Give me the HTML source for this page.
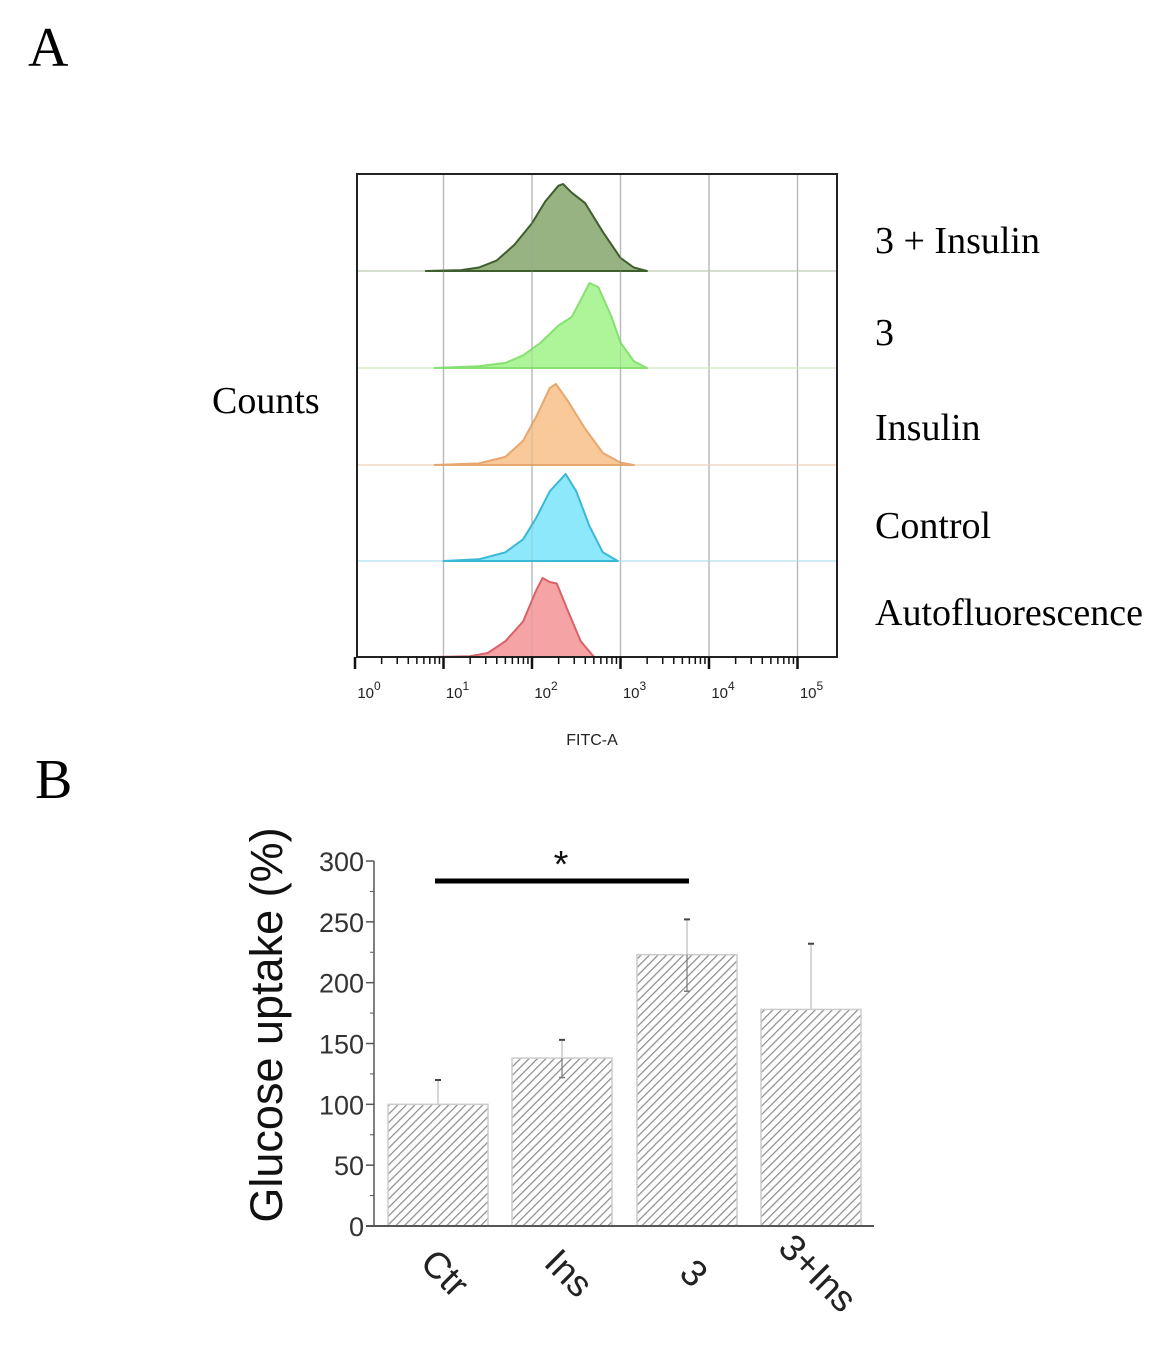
<!DOCTYPE html>
<html><head><meta charset="utf-8">
<style>
body{margin:0;background:#fff;}
svg{display:block;}
.serif{font-family:"Liberation Serif",serif;}
.sans{font-family:"Liberation Sans",sans-serif;}
</style></head>
<body>
<svg id="fig" width="1158" height="1352" viewBox="0 0 1158 1352" xmlns="http://www.w3.org/2000/svg">
<defs>
<pattern id="hatch" patternUnits="userSpaceOnUse" width="6" height="6" patternTransform="rotate(45)">
<rect width="6" height="6" fill="#fff"/>
<line x1="0" y1="0" x2="0" y2="6" stroke="#8a8a8a" stroke-width="2.4"/>
</pattern>
</defs>
<text class="serif" x="28" y="66" font-size="56">A</text>
<text class="serif" x="35" y="798" font-size="56">B</text>
<g id="hist"></g>
<g id="bars"></g>
</svg>
<script>
// ---------- Panel A data ----------
const rowLabels = ["3 + Insulin", "3", "Insulin", "Control", "Autofluorescence"];
const rowFill = ["#98b382", "#aef59a", "#f9c99a", "#8ee8fb", "#f5a3a5"];
const rowStroke = ["#3f5e2e", "#86e072", "#e6a870", "#3ab8d6", "#d9626a"];
const rowBaseColor = ["#c9d4c0", "#d7ecc9", "#f0d9c4", "#bfe6f0", "#e6c9ca"];
const histLog0 = [0.8,1.2,1.4,1.6,1.8,2.0,2.15,2.3,2.35,2.45,2.6,2.8,3.0,3.15,3.3];
const histVal0 = [0,0.01,0.04,0.12,0.3,0.55,0.8,0.98,1,0.9,0.78,0.45,0.15,0.04,0];
const histLog1 = [0.9,1.4,1.7,1.9,2.1,2.3,2.45,2.55,2.65,2.75,2.9,3.0,3.15,3.3];
const histVal1 = [0,0.02,0.06,0.15,0.3,0.5,0.6,0.8,1,0.95,0.6,0.3,0.08,0];
const histLog2 = [0.9,1.4,1.7,1.9,2.05,2.2,2.27,2.4,2.6,2.8,3.0,3.15];
const histVal2 = [0,0.02,0.1,0.3,0.6,0.95,1,0.8,0.45,0.15,0.03,0];
const histLog3 = [1.0,1.4,1.7,1.9,2.05,2.2,2.38,2.5,2.65,2.8,2.97];
const histVal3 = [0,0.02,0.1,0.25,0.5,0.8,1,0.8,0.4,0.1,0];
const histLog4 = [0.9,1.3,1.5,1.7,1.9,2.05,2.12,2.2,2.28,2.4,2.55,2.7];
const histVal4 = [0,0.01,0.05,0.2,0.45,0.85,1,0.95,0.93,0.6,0.2,0];
const peakHeights = [87, 85, 81, 87, 79];
const decadeLabels = ["0","1","2","3","4","5"];

// ---------- Panel B data ----------
const categories = ["Ctr", "Ins", "3", "3+Ins"];
const means = [100, 138, 223, 178];
const errUp = [120, 153, 252, 232];
const errLow = [100, 122, 193, 178];
const yTicks = [0, 50, 100, 150, 200, 250, 300];

const NS = "http://www.w3.org/2000/svg";
function mk(parent, tag, attrs){const e=document.createElementNS(NS,tag);for(const k in attrs)e.setAttribute(k,attrs[k]);parent.appendChild(e);return e;}

// ---------- Panel A ----------
const H = document.getElementById('hist');
const fx0 = 357, fx1 = 837, fy0 = 174, fy1 = 657;
const lx = v => 355 + v * 88.5;
const baselines = [271, 368, 465, 561, 657];
for (let d = 1; d <= 5; d++) {
  const g = mk(H, 'line', {x1: lx(d), x2: lx(d), y1: fy0, y2: fy1, stroke: '#c8c8c8', 'stroke-width': 1.5});
  
  
}
const logs = [histLog0, histLog1, histLog2, histLog3, histLog4];
const vals = [histVal0, histVal1, histVal2, histVal3, histVal4];
for (let r = 0; r < 5; r++) {
  const b = baselines[r];
  if (r < 4) {
    const bl = mk(H, 'line', {x1: fx0, x2: fx1, y1: b, y2: b, stroke: rowBaseColor[r], 'stroke-width': 1.5});
    
    
  }
  let d = '';
  logs[r].forEach((L, i) => {
    const x = lx(L), y = b - vals[r][i] * peakHeights[r];
    d += (i ? 'L' : 'M') + x.toFixed(1) + ',' + y.toFixed(1);
  });
  const p = mk(H, 'path', {d: d + 'Z', fill: rowFill[r], stroke: rowStroke[r], 'stroke-width': 2, 'stroke-linejoin': 'round'});
  
  
  const t = mk(H, 'text', {x: 875, y: [253, 345, 440, 538, 625][r], 'font-size': 38, class: 'serif'});
  t.textContent = rowLabels[r];
  
  
}
for (let d = 1; d <= 5; d++) {
  const g = mk(H, 'line', {x1: lx(d), x2: lx(d), y1: fy0, y2: fy1, stroke: '#9a9a9a', 'stroke-width': 1, opacity: 0.35});
  
  
}
const fr = mk(H, 'rect', {x: fx0, y: fy0, width: fx1 - fx0, height: fy1 - fy0, fill: 'none', stroke: '#222', 'stroke-width': 2});


for (let d = 0; d <= 5; d++) {
  const mj = mk(H, 'line', {x1: lx(d), x2: lx(d), y1: fy1, y2: fy1 + 12, stroke: '#111', 'stroke-width': 2.5});
  
  
  if (d < 5) for (let m = 2; m <= 9; m++) {
    const x = lx(d + Math.log10(m));
    const mn = mk(H, 'line', {x1: x, x2: x, y1: fy1, y2: fy1 + 7, stroke: '#111', 'stroke-width': 1.5});
    
    
  }
  const t = mk(H, 'text', {x: lx(d) + 14, y: 698, 'font-size': 15, 'text-anchor': 'middle', class: 'sans', fill: '#222'});
  t.innerHTML = '10<tspan dy="-8" font-size="12">' + decadeLabels[d] + '</tspan>';
  
  
}
const xt = mk(H, 'text', {x: 592, y: 745, 'font-size': 16, 'text-anchor': 'middle', class: 'sans', fill: '#222'});
xt.textContent = 'FITC-A';


const yt = mk(H, 'text', {x: 212, y: 413, 'font-size': 38, class: 'serif'});
yt.textContent = 'Counts';



// ---------- Panel B ----------
const B = document.getElementById('bars');
const y0 = 1226, yTop = 861;
const ys = v => y0 - v * (y0 - yTop) / 300;
const barLeft = [388, 512, 637, 761], barW = 100;
for (let i = 0; i < categories.length; i++) {
  const x = barLeft[i], cx = x + barW / 2;
  const el = mk(B, 'line', {x1: cx, x2: cx, y1: ys(errUp[i]), y2: ys(errLow[i]), stroke: '#bbb', 'stroke-width': 1.2});
  
  
  const r = mk(B, 'rect', {x: x, y: ys(means[i]), width: barW, height: y0 - ys(means[i]), fill: 'url(#hatch)', stroke: '#ccc', 'stroke-width': 1.5});
  
  
  const cap = mk(B, 'line', {x1: cx - 3, x2: cx + 3, y1: ys(errUp[i]), y2: ys(errUp[i]), stroke: '#444', 'stroke-width': 2});
  
  
  if (errLow[i] < means[i]) {
    const el2 = mk(B, 'line', {x1: cx, x2: cx, y1: ys(means[i]), y2: ys(errLow[i]), stroke: '#777', 'stroke-width': 1.2});
    
    
    const cap2 = mk(B, 'line', {x1: cx - 3, x2: cx + 3, y1: ys(errLow[i]), y2: ys(errLow[i]), stroke: '#777', 'stroke-width': 1.5});
    
    
  }
  const t = mk(B, 'text', {x: 0, y: 0, 'font-size': 37, class: 'sans', 'text-anchor': 'middle', fill: '#222',
    transform: 'translate(' + (cx - 2) + ',' + 1282 + ') rotate(45)'});
  t.textContent = categories[i];
  
  
}
const ax = mk(B, 'line', {x1: 374, x2: 374, y1: yTop, y2: y0, stroke: '#555', 'stroke-width': 1.5});


const bx = mk(B, 'line', {x1: 366, x2: 874, y1: y0, y2: y0, stroke: '#555', 'stroke-width': 2});


yTicks.forEach(v => {
  const tk = mk(B, 'line', {x1: 366, x2: 374, y1: ys(v), y2: ys(v), stroke: '#555', 'stroke-width': 1.5});
  
  
  if (v < 300) {
    const mt = mk(B, 'line', {x1: 370, x2: 374, y1: ys(v + 25), y2: ys(v + 25), stroke: '#555', 'stroke-width': 1});
    
    
  }
  const t = mk(B, 'text', {x: 364, y: ys(v) + 10, 'font-size': 27, class: 'sans', 'text-anchor': 'end', fill: '#333'});
  t.textContent = v;
  
  
});
const ytt = mk(B, 'text', {x: 0, y: 0, 'font-size': 45, class: 'sans', 'text-anchor': 'middle', fill: '#111', transform: 'translate(282,1025) rotate(-90)'});
ytt.textContent = 'Glucose uptake (%)';


const sig = mk(B, 'line', {x1: 435, x2: 689, y1: 881, y2: 881, stroke: '#000', 'stroke-width': 5});


const star = mk(B, 'text', {x: 561, y: 877, 'font-size': 38, class: 'sans', 'text-anchor': 'middle', fill: '#111'});
star.textContent = '*';


</script>
</body></html>
